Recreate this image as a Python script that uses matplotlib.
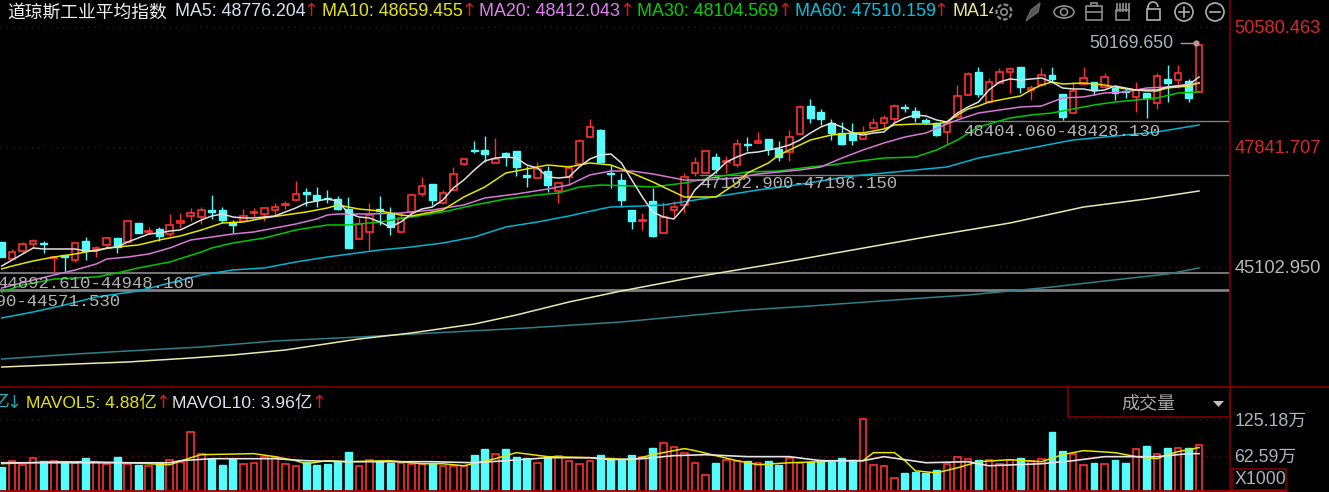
import numpy as np
import matplotlib
matplotlib.use("Agg")
import matplotlib.pyplot as plt
from matplotlib.patches import Rectangle, Circle, Ellipse, Arc, Polygon

plt.rcParams['font.family'] = ['Liberation Sans', 'Noto Sans CJK SC', 'DejaVu Sans']

# candles
opens = [45665,45276,45459,45619,45642,45299,45368,45254,45688,45482,45596,45756,45665,46099,45894,45962,45848,46099,46259,46237,
         46397,46397,46122,46145,46328,46305,46397,46511,46625,46808,46740,46671,46648,46419,45734,45894,46419,46305,45894,46351,
         46762,46991,46557,46854,47448,47768,47768,47471,47700,47745,47197,47128,47288,46831,47151,47448,48065,48225,47242,47082,
         46397,46145,46602,45871,46397,46511,47242,47242,47608,47494,47425,47905,47928,48020,47791,47722,48134,48774,48637,48385,
         48157,48157,48020,48271,48385,48477,48751,48660,48454,48385,48180,48522,49025,49551,48865,49300,49551,49665,49140,49254,
         49483,49048,48614,49277,49323,49208,49185,49117,48980,49071,48842,49391,49368,49345,49094]
closes = [45322,45436,45619,45688,45619,45322,45322,45642,45459,45528,45756,45551,46145,45871,45916,45802,46054,46145,46328,46397,
          46351,46168,46054,46259,46351,46442,46465,46534,46762,46762,46625,46648,46419,45528,46076,46282,46374,46008,46214,46740,
          46945,46625,46785,47220,47562,47745,47677,47562,47608,47380,47151,47334,46968,47014,47357,47974,48294,47494,47220,46625,
          46145,46168,45802,46237,46465,47151,47471,47745,47334,47517,47905,47882,47974,47791,47608,48065,48751,48500,48477,48157,
          47905,47997,48157,48385,48500,48774,48728,48522,48408,48111,48385,49002,49505,49048,49323,49551,49620,49208,49185,49483,
          49391,48522,49117,49414,49140,49437,49071,49094,49140,48957,49460,49300,49528,48957,50169.65]
highs = [45665,45505,45665,45734,45688,45322,45368,45642,45779,45574,45779,45756,46168,46099,46008,46008,46305,46328,46442,46465,
         46740,46465,46168,46419,46442,46465,46557,46602,47060,46900,46922,46854,46717,46694,46214,46557,46717,46465,46351,46785,
         47151,46991,46854,47380,47585,47974,48088,48042,47722,47745,47402,47494,47402,47014,47425,48020,48477,48248,47425,47242,
         46397,46328,46900,46579,46602,47242,47608,47768,47700,47631,48020,48065,48180,48020,47974,48225,48797,48934,48705,48477,
         48408,48385,48317,48500,48568,48820,48820,48751,48500,48408,48454,49254,49551,49665,49414,49643,49665,49665,49254,49643,
         49665,49048,49323,49665,49323,49528,49208,49163,49323,49071,49528,49711,49711,49391,50169.65]
lows = [45322,45254,45414,45528,45414,44979,45002,45208,45254,45322,45551,45414,45642,45871,45848,45688,45779,45985,46145,46076,
        46191,46099,45871,46145,46237,46145,46282,46419,46625,46488,46465,46557,46397,45528,45734,45482,46054,45825,45894,46282,
        46717,46511,46534,46854,47425,47700,47494,47471,47402,47174,46922,47128,46808,46557,46968,47448,48065,47494,46900,46465,
        45962,45939,45779,45871,46214,46328,47174,47242,47242,47242,47380,47745,47928,47654,47517,47517,48134,48385,48340,47997,
        47882,47882,48020,48248,48271,48408,48637,48408,48362,48088,47882,48522,49025,48980,48842,49300,49071,49071,48911,49231,
        49300,48454,48614,49254,49025,49185,48911,48957,48637,48500,48705,48865,49185,48865,49094]

# volume, in 万
volume = [43.5,53.9,47.0,59.1,53.9,53.9,50.4,50.4,59.1,52.2,48.7,60.9,48.7,47.0,45.2,50.4,55.6,52.2,102.6,66.1,
          57.4,47.0,57.4,48.7,50.4,60.9,60.9,48.7,45.2,52.2,47.0,48.7,53.9,69.6,45.2,55.6,53.9,50.4,50.4,48.7,
          48.7,50.4,45.2,45.2,45.2,64.3,74.8,66.1,74.8,60.9,59.1,50.4,59.1,62.6,53.9,48.7,53.9,64.3,59.1,55.6,
          64.3,60.9,76.5,85.2,78.3,67.8,50.4,29.6,50.4,55.6,53.9,53.9,50.4,53.9,47.0,59.1,50.4,52.2,55.6,52.2,
          59.1,55.6,125.2,47.0,45.2,24.3,33.0,34.8,33.0,38.3,48.7,60.9,57.4,55.6,55.6,48.7,55.6,59.1,53.9,57.4,
          102.6,71.3,66.1,47.0,50.4,48.7,55.6,50.4,74.8,80.0,66.1,76.5,76.5,76.5,81.7]

# moving averages
ma5 = [45116,45254,45391,45528,45505,45505,45505,45505,45459,45459,45528,45551,45665,45756,45848,45871,45916,45939,46054,46168,
       46259,46305,46237,46214,46214,46237,46259,46351,46442,46557,46602,46648,46602,46328,46237,46214,46122,46008,46122,46305,
       46419,46465,46625,46900,47082,47311,47517,47585,47608,47585,47425,47357,47151,47128,47151,47380,47562,47654,47677,47471,
       47082,46694,46351,46237,46191,46465,46854,47082,47265,47494,47608,47700,47722,47768,47814,47882,47997,48157,48294,48385,
       48294,48157,48111,48157,48180,48385,48500,48568,48545,48454,48408,48614,48751,48865,49140,49323,49391,49368,49391,49414,
       49323,49185,49163,49163,49117,49140,49231,49185,49140,49140,49140,49208,49231,49254,49437]

ma10_idx = [0,1,3,5,7,9,11,13,15,17,19,21,23,25,27,29,31,32,34,36,38,39,41,42,44,46,48,50,52,54,56,58,59,60,62,
            63,64,65,67,68,70,71,73,74,75,77,79,81,82,84,85,87,89,90,91,92,93,94,95,96,97,98,99,100,101,103,105,107,109,110,111,113,114]
ma10 = [45048,45116,45231,45322,45391,45482,45551,45596,45711,45802,45939,46099,46122,46214,46282,46351,46442,46511,46419,46374,46282,46259,46351,46397,46694,46922,47242,47334,47425,47380,47471,47425,47334,47242,47037,
        46922,46808,46694,46694,46694,47014,47242,47471,47654,47768,47997,48111,48157,48157,48248,48340,48362,48362,48408,48568,48705,48774,48865,48911,48957,49002,49140,49254,49323,49277,49300,49254,49163,49117,49117,49185,49231,49300]

ma20_idx = [0,3,5,7,9,10,12,14,16,18,20,22,24,26,28,30,31,32,35,38,41,44,46,49,52,54,56,58,60,62,63,65,67,70,72,74,76,78,80,82,84,86,88,90,91,93,95,97,99,101,103,105,107,109,111,114]
ma20 = [44613,44796,44911,45025,45162,45276,45322,45391,45528,45711,45779,45848,45894,45985,46076,46191,46282,46305,46305,46328,46397,46511,46671,46762,46877,46968,47197,47288,47288,47220,47174,47082,47082,47128,47220,47265,47311,47380,47585,47768,47928,48065,48157,48362,48454,48614,48682,48751,48774,48957,48980,49071,49094,49185,49208,49300]

ma30_idx = [0,2,5,9,11,13,16,19,20,22,25,28,31,33,36,39,42,45,48,51,53,55,57,60,62,65,68,71,74,77,79,81,84,87,89,91,93,96,98,100,102,104,106,108,110,112,114]
ma30 = [44522,44682,44819,44865,44957,45071,45208,45436,45528,45642,45756,45939,46054,46054,46122,46237,46351,46511,46648,46740,46785,46922,46968,46945,46922,47014,47151,47265,47288,47380,47425,47494,47585,47608,47768,47997,48294,48500,48568,48614,48705,48797,48865,48911,48957,49071,49094]

ma60_idx = [0,3,6,9,13,16,19,22,25,28,31,36,39,42,45,48,51,54,57,58,61,63,66,69,72,75,78,81,84,87,90,93,97,102,106,110,114]
ma60 = [43928,44065,44225,44408,44545,44728,44911,45025,45071,45208,45322,45482,45551,45642,45779,46008,46122,46259,46419,46465,46488,46511,46625,46740,46854,46945,47060,47174,47242,47311,47380,47585,47768,47997,48088,48180,48340]

ma120_idx = [0,7,12,18,22,27,34,39,45,49,54,59,66,74,81,88,96,103,109,114]
ma120 = [42807,42876,42922,43013,43082,43196,43447,43585,43790,43996,44293,44545,44865,45185,45482,45779,46099,46465,46648,46831]

ma250_idx = [0,7,12,19,26,34,41,50,59,71,77,85,92,100,105,111,114]
ma250 = [42990,43104,43173,43265,43402,43493,43585,43699,43836,44110,44202,44339,44453,44636,44773,44933,45071]

vol5_idx = [0,5,8,12,14,16,18,19,24,26,28,29,31,33,37,40,42,44,47,49,52,56,60,62,64,65,66,68,70,72,75,78,80,82,83,85,86,87,89,91,93,96,99,101,103,106,108,110,111,112,114]
vol5 = [48.7,52.2,52.2,50.4,48.7,47.0,59.1,64.3,66.1,60.9,53.9,48.7,53.9,52.2,53.9,48.7,48.7,45.2,57.4,67.8,60.9,59.1,55.6,64.3,71.3,74.8,71.3,62.6,53.9,47.0,50.4,52.2,53.9,53.9,67.8,67.8,53.9,36.5,33.0,41.7,52.2,55.6,52.2,64.3,71.3,67.8,60.9,57.4,64.3,69.6,76.5]
vol10_idx = [0,16,17,20,26,29,33,41,45,48,52,56,58,61,64,67,71,75,78,82,84,88,92,94,99,102,105,110,113,114]
vol10 = [50.4,50.4,53.9,57.4,57.4,53.9,52.2,52.2,50.4,53.9,59.1,59.1,55.6,57.4,62.6,64.3,60.9,60.9,53.9,53.9,60.9,50.4,52.2,45.2,48.7,53.9,60.9,60.9,66.1,66.1]

# support / resistance levels and their labels
levels = [48428.13, 47196.15, 44948.16, 44571.53]
level_start = [90, 66.5, -1, -1]
level_width = [1.0, 1.0, 1.3, 2.0]

price_ticks = [50580.463, 47841.707, 45102.950]
price_labels = ['50580.463', '47841.707', '45102.950']
vol_ticks = [125.18, 62.59]
vol_labels = ['125.18万', '62.59万']

RED = '#ff3030'
CYAN = '#54fcfc'
DARK = '#7c0000'
GRAY = '#aab4be'

fig = plt.figure(figsize=(13.29, 4.92), dpi=100, facecolor='black')
ax = fig.add_axes([0, 105 / 492, 1230 / 1329, 387 / 492], facecolor='black')
vax = fig.add_axes([0, 0, 1230 / 1329, 105 / 492], facecolor='black')
over = fig.add_axes([0, 0, 1, 1])
over.set_xlim(0, 1329)
over.set_ylim(492, 0)
over.axis('off')
over.patch.set_visible(False)

idx = np.arange(len(opens))
o = np.array(opens)
c = np.array(closes)
up = c >= o
xlim = (-1.7 / 10.503, (1230 - 1.7) / 10.503)

# main panel
ax.set_xlim(xlim)
ax.set_ylim(42350, 51197)
for p in price_ticks:
    ax.axhline(p, color=DARK, lw=1, ls=(0, (1, 3.5)), zorder=1)
for lev, s, w in zip(levels, level_start, level_width):
    ax.plot([s, xlim[1]], [lev, lev], color='#808080', lw=w, zorder=2)

ax.vlines(idx[up], np.array(lows)[up], np.array(highs)[up], color=RED, lw=1, zorder=3)
ax.vlines(idx[~up], np.array(lows)[~up], np.array(highs)[~up], color=CYAN, lw=1, zorder=3)
ax.bar(idx[up], np.maximum(c - o, 12)[up], bottom=o[up], width=0.62, facecolor='black',
       edgecolor=RED, lw=1.2, zorder=4)
ax.bar(idx[~up], np.maximum(o - c, 12)[~up], bottom=c[~up], width=0.66, color=CYAN,
       edgecolor=CYAN, lw=1.0, zorder=4)

ax.plot(ma250_idx, ma250, color='#2e7f88', lw=1.1, zorder=5)
ax.plot(ma120_idx, ma120, color='#e8e8b0', lw=1.1, zorder=5)
ax.plot(ma60_idx, ma60, color='#00b4d2', lw=1.1, zorder=5)
ax.plot(ma30_idx, ma30, color='#00c800', lw=1.1, zorder=5)
ax.plot(ma20_idx, ma20, color='#d878d8', lw=1.1, zorder=5)
ax.plot(ma10_idx, ma10, color='#e6e600', lw=1.1, zorder=6)
ax.plot(idx, ma5, color='#e0e0e0', lw=1.1, zorder=6)

ax.yaxis.tick_right()
ax.set_yticks(price_ticks)
ax.set_yticklabels(price_labels, fontsize=13.2)
ax.tick_params(axis='y', length=0, pad=3)
for lab, col in zip(ax.get_yticklabels(), ['#d42a2a', '#d42a2a', '#b8b8b8']):
    lab.set_color(col)
ax.set_xticks([])
for side in ['top', 'left', 'bottom']:
    ax.spines[side].set_visible(False)
ax.spines['right'].set_color(DARK)
ax.spines['right'].set_linewidth(1.2)

# volume panel
vax.set_xlim(xlim)
vax.set_ylim(0, 180.9)
for v in vol_ticks:
    vax.axhline(v, color=DARK, lw=1, ls=(0, (1, 3.5)), zorder=1)
vol = np.array(volume)
vax.bar(idx[up], vol[up], width=0.62, facecolor='black', edgecolor=RED, lw=1.2, zorder=3)
vax.bar(idx[~up], vol[~up], width=0.66, color=CYAN, edgecolor=CYAN, lw=1.0, zorder=3)
vax.plot(vol5_idx, vol5, color='#e6e600', lw=1.1, zorder=4)
vax.plot(vol10_idx, vol10, color='#e4e4e4', lw=1.2, zorder=5)
vax.yaxis.tick_right()
vax.set_yticks(vol_ticks)
vax.set_yticklabels(vol_labels, fontsize=12.8, color=GRAY)
vax.tick_params(axis='y', length=0, pad=3)
vax.set_xticks([])
for side in ['top', 'left', 'bottom']:
    vax.spines[side].set_visible(False)
vax.spines['right'].set_color(DARK)
vax.spines['right'].set_linewidth(1.2)

# level labels
mono = dict(family='Liberation Mono', fontsize=12.5, color='#b4b4b4', va='center', zorder=7)
over.text(1160, 131, '48404.060-48428.130', ha='right', **mono)
over.text(897, 184, '47192.900-47196.150', ha='right', **mono)
over.text(194, 284, '44892.610-44948.160', ha='right', **mono)
over.text(120, 302, '44531.490-44571.530', ha='right', **mono)

# last price tag
over.text(1089, 43, '50169.650', color=GRAY, fontsize=12.8, va='center')
over.plot([1181, 1195], [43, 43], color='#a0a0a0', lw=1)
over.plot([1196], [43], 'o', color='#c89090', ms=3.5)

# header
over.text(7, 13, '道琼斯工业平均指数', color='#f0f0f0', fontsize=12.8, va='center')
ma_heads = ['MA5: 48776.204', 'MA10: 48659.455', 'MA20: 48412.043', 'MA30: 48104.569', 'MA60: 47510.159']
ma_x = [175, 322, 479, 637, 795]
ma_cols = ['#d4e0f0', '#e6e600', '#e080f0', '#00d000', '#00c4e0']
ma_arrow_x = [311, 469, 627, 785, 941]
for h, hx, col, ax_ in zip(ma_heads, ma_x, ma_cols, ma_arrow_x):
    over.text(hx, 11, h, color=col, fontsize=12.9, va='center')
    over.text(ax_, 11, '↑', color='#c82020', fontsize=13, ha='center', va='center', family='DejaVu Sans')
over.text(952, 11, 'MA144', color='#f0e890', fontsize=12.9, va='center')
over.add_patch(Rectangle((993, 0), 236, 25, facecolor='black', edgecolor='none', zorder=3))

# toolbar icons
ic = '#8c8c8c'
style = dict(fill=False, edgecolor=ic, lw=1.2, zorder=4)
over.add_patch(Circle((1004, 12), 3.2, **style))
over.add_patch(Circle((1004, 12), 7.5, fill=False, edgecolor=ic, lw=1.6, ls=(0, (2, 1)), zorder=4))
over.add_patch(Polygon([(1026, 21), (1031, 10), (1040, 3), (1038, 12), (1031, 17)], closed=True, facecolor='#555555', edgecolor='#666666', lw=1, zorder=4))
over.add_patch(Ellipse((1064, 12), 20, 12, **style))
over.add_patch(Circle((1064, 12), 3.5, **style))
over.add_patch(Rectangle((1086, 6), 16, 14, **style))
over.plot([1086, 1102], [12, 12], color=ic, lw=1.2, zorder=4)
over.add_patch(Rectangle((1091, 3), 6, 3, **style))
over.add_patch(Rectangle((1116, 10), 13, 10, **style))
for hx in [1117, 1120, 1123, 1126, 1129]:
    over.plot([hx, hx], [4, 11], color=ic, lw=1.3, zorder=4)
over.add_patch(Rectangle((1147, 9), 13, 11, edgecolor='#b0b0b0', fill=False, lw=1.2, zorder=4))
over.add_patch(Arc((1153, 7), 10, 10, theta1=180, theta2=360, edgecolor='#b0b0b0', lw=1.2, zorder=4))
over.plot([1148, 1148], [7, 9], color='#b0b0b0', lw=1.2, zorder=4)
over.add_patch(Circle((1184, 12), 9, fill=False, edgecolor='#b0b0b0', lw=1.2, zorder=4))
over.plot([1179, 1189], [12, 12], color='#b0b0b0', lw=1.2, zorder=4)
over.plot([1184, 1184], [7, 17], color='#b0b0b0', lw=1.2, zorder=4)
over.add_patch(Circle((1215, 12), 9, fill=False, edgecolor='#b0b0b0', lw=1.2, zorder=4))
over.plot([1210, 1220], [12, 12], color='#b0b0b0', lw=1.2, zorder=4)

# volume header and frame
over.plot([0, 1329], [387, 387], color=DARK, lw=1.3)
over.plot([0, 1286], [490.5, 490.5], color='#a00000', lw=1.3)
over.add_patch(Rectangle((1068, 387), 162, 30, fill=False, edgecolor=DARK, lw=1.2))
over.text(1148, 404, '成交量', color='#a8a8a8', fontsize=13, ha='center', va='center')
over.add_patch(Polygon([(1213, 401), (1224, 401), (1218.5, 407)], closed=True, facecolor='#c0c0c0', edgecolor='none'))
over.text(9, 403, '亿', color='#20b4c8', fontsize=12.8, ha='right', va='center')
over.text(14, 403, '↓', color='#20a0b0', fontsize=13, ha='center', va='center', family='DejaVu Sans')
over.text(26, 403, 'MAVOL5: 4.88亿', color='#e6e600', fontsize=12.6, va='center')
over.text(163, 403, '↑', color='#c82020', fontsize=13, ha='center', va='center', family='DejaVu Sans')
over.text(172, 403, 'MAVOL10: 3.96亿', color='#dde4ee', fontsize=12.6, va='center')
over.text(319, 403, '↑', color='#c82020', fontsize=13, ha='center', va='center', family='DejaVu Sans')
over.add_patch(Rectangle((1232, 469), 54, 21, fill=False, edgecolor=DARK, lw=1.2))
over.text(1235, 479.5, 'X1000', color=GRAY, fontsize=12.8, va='center')

fig.savefig('out.png', dpi=100, facecolor='black')
